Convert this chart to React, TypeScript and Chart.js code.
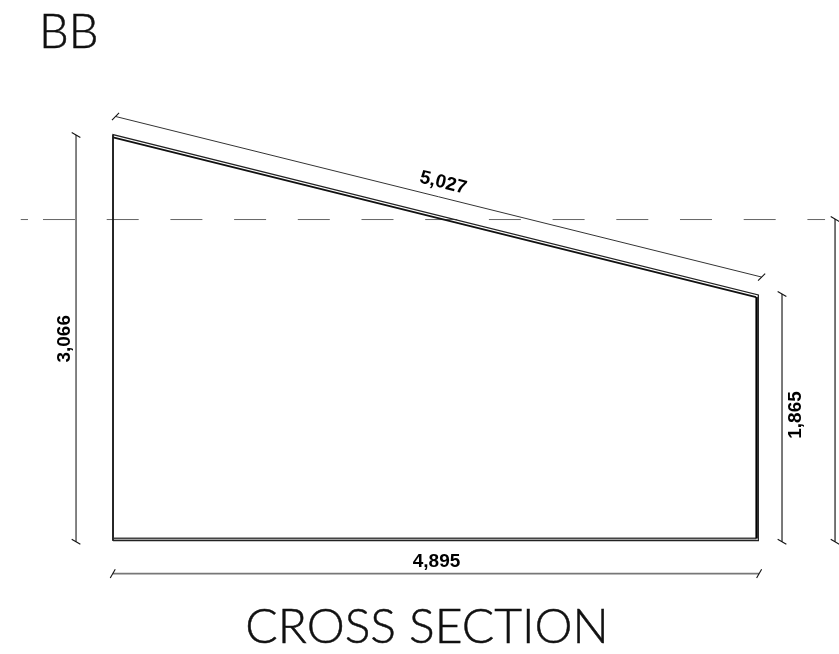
import React, { useEffect, useRef } from "react";
import { Chart, registerables } from "chart.js";

Chart.register(...registerables);

// Section outline, in millimetres
const outerX = [0, 4903, 4903, 0, 0];
const outerY = [-5, -5, 1862, 3080, -5];
const wallInnerX = [4890, 4890];
const wallInnerY = [12, 1846];
const floorInnerX = [0, 4890];
const floorInnerY = [12, 12];
const roofInnerX = [0, 4886];
const roofInnerY = [3060, 1846];
const wallLeftX = [0, 0];
const wallLeftY = [3080, -5];

// Dimension lines
const dimRoofX = [19, 4928];
const dimRoofY = [3218, 1998];
const dimLeftX = [-281, -281];
const dimLeftY = [3077, -13];
const dimRightX = [5083, 5083];
const dimRightY = [1869, -13];
const dimFarX = [5486, 5486];
const dimFarY = [2439, -13];
const dimBottomX = [-2, 4909];
const dimBottomY = [-255, -255];

// Level line: a short stub, then the long dashes
const levelStubX = [-701, -646];
const levelX = [-532, 5410];
const levelY = [2435, 2435];

const labels = [
  { text: "5,027", x: 2508, y: 2713, angle: 14 },
  { text: "3,066", x: -365, y: 1529, angle: -90 },
  { text: "1,865", x: 5189, y: 950, angle: -90 },
  { text: "4,895", x: 2458, y: -167, angle: 0 },
];

const titleTop = "BB";
const titleBottom = "CROSS SECTION";

const line = (xs: number[], ys: number[], color: string, width: number, extra: object = {}) => ({
  data: xs.map((x, i) => ({ x, y: ys[i] })),
  borderColor: color,
  borderWidth: width,
  pointRadius: 0,
  showLine: true,
  tension: 0,
  ...extra,
});

const ticked = (rotation: number) => ({
  pointStyle: "line",
  pointRadius: 5,
  pointRotation: rotation,
  pointBorderColor: "#111",
  pointBorderWidth: 1.1,
});

const textPlugin = {
  id: "drawingText",
  afterDatasetsDraw(chart: any) {
    const { ctx, scales } = chart;
    ctx.save();
    ctx.fillStyle = "#000";
    ctx.textAlign = "center";
    ctx.textBaseline = "middle";
    ctx.font = "bold 19px 'Liberation Sans'";
    for (const l of labels) {
      ctx.save();
      ctx.translate(scales.x.getPixelForValue(l.x), scales.y.getPixelForValue(l.y));
      ctx.rotate((l.angle * Math.PI) / 180);
      ctx.fillText(l.text, 0, 0);
      ctx.restore();
    }
    ctx.fillStyle = "#111";
    ctx.strokeStyle = "#111";
    ctx.lineWidth = 0.5;
    ctx.textAlign = "left";
    ctx.font = "300 47px Lato";
    ctx.fillText(titleTop, 39, 33);
    ctx.strokeText(titleTop, 39, 33);
    ctx.textAlign = "center";
    ctx.font = "300 48px Lato";
    ctx.fillText(titleBottom, 427, 628);
    ctx.strokeText(titleBottom, 427, 628);
    ctx.restore();
  },
};

export default function App() {
  const ref = useRef<HTMLCanvasElement>(null);
  useEffect(() => {
    document.body.style.margin = "0";
    const chart = new Chart(ref.current!, {
      type: "scatter",
      data: {
        datasets: [
          line(outerX, outerY, "#222", 1.3),
          line(wallInnerX, wallInnerY, "#000", 2.4),
          line(floorInnerX, floorInnerY, "#444", 2),
          line(roofInnerX, roofInnerY, "#111", 1.8),
          line(wallLeftX, wallLeftY, "#000", 1.6),
          line(dimRoofX, dimRoofY, "#333", 1, ticked(-45)),
          line(dimLeftX, dimLeftY, "#333", 1.2, ticked(30)),
          line(dimRightX, dimRightY, "#222", 1.2, ticked(30)),
          line(dimFarX, dimFarY, "#555", 1.6, ticked(30)),
          line(dimBottomX, dimBottomY, "#777", 1.6, ticked(-60)),
          line(levelStubX, levelY, "#666", 1),
          line(levelX, levelY, "#666", 1, { borderDash: [32, 31.7] }),
        ] as any,
      },
      options: {
        animation: false,
        responsive: false,
        layout: { padding: 0, autoPadding: false },
        plugins: { legend: { display: false }, title: { display: false }, tooltip: { enabled: false } },
        scales: {
          x: { type: "linear", display: false, min: -858.7, max: 5516 },
          y: { type: "linear", display: false, min: -866, max: 4103 },
        },
      },
      plugins: [textPlugin],
    });
    return () => chart.destroy();
  }, []);
  return <canvas ref={ref} width={839} height={654} style={{ display: "block" }} />;
}
